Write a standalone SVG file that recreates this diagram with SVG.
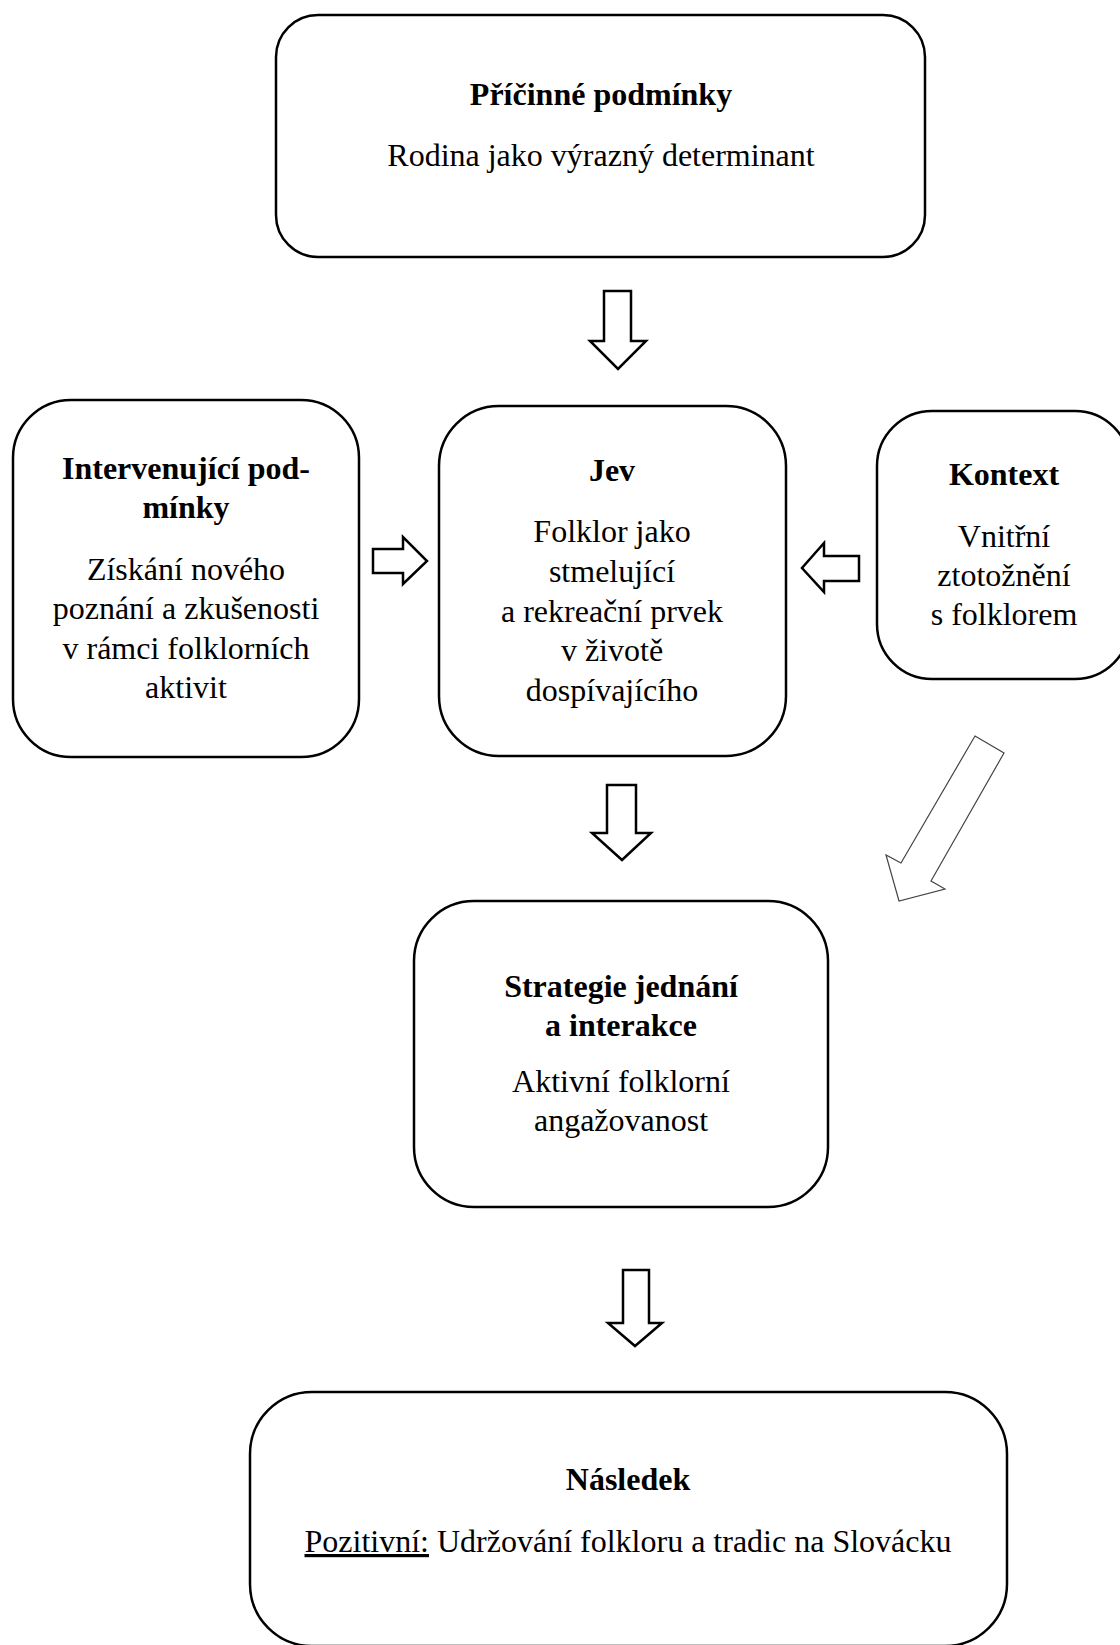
<svg xmlns="http://www.w3.org/2000/svg" width="1120" height="1645" viewBox="0 0 1120 1645">
<style>
.box{fill:#fff;stroke:#000;stroke-width:2.5}
.arr{fill:#fff;stroke:#000;stroke-width:2.5;stroke-linejoin:miter}
.thin{fill:#fff;stroke:#444;stroke-width:1.2;stroke-linejoin:miter}
text{font-family:"Liberation Serif","Times New Roman",serif;font-size:32px;fill:#000;text-anchor:middle}
.b{font-weight:bold}
</style>
<rect width="1120" height="1645" fill="#fff"/>
<g id="connectors">
<polygon class="arr" points="604,291 631,291 631,341 646,341 618,369 590,341 604,341"/>
<polygon class="arr" points="373,549 403,549 403,537 427,561 403,584 403,573 373,573"/>
<polygon class="arr" points="859,556 824,556 824,543 802,568 824,592 824,581 859,581"/>
<polygon class="thin" points="975,736 1004,753 931,881 945,889 899,901 886,855 901,863"/>
<polygon class="arr" points="607,785 636,785 636,833 651,833 622,860 592,833 607,833"/>
<polygon class="arr" points="623,1270 649,1270 649,1323 662,1323 635,1346 608,1323 623,1323"/>
</g>
<g id="pricinne">
<rect class="box" x="276" y="15" width="649" height="242" rx="42"/>
<text class="b" x="601" y="105">Příčinné podmínky</text>
<text x="601" y="166">Rodina jako výrazný determinant</text>
</g>
<g id="intervenujici">
<rect class="box" x="13" y="400" width="346" height="357" rx="58"/>
<text class="b" x="186" y="479">Intervenující pod-</text>
<text class="b" x="186" y="518">mínky</text>
<text x="186" y="580">Získání nového</text>
<text x="186" y="619">poznání a zkušenosti</text>
<text x="186" y="659">v rámci folklorních</text>
<text x="186" y="698">aktivit</text>
</g>
<g id="jev">
<rect class="box" x="439" y="406" width="347" height="350" rx="60"/>
<text class="b" x="612" y="481">Jev</text>
<text x="612" y="542">Folklor jako</text>
<text x="612" y="582">stmelující</text>
<text x="612" y="622">a rekreační prvek</text>
<text x="612" y="661">v životě</text>
<text x="612" y="701">dospívajícího</text>
</g>
<g id="kontext">
<rect class="box" x="877" y="411" width="253" height="268" rx="55"/>
<text class="b" x="1004" y="485">Kontext</text>
<text x="1004" y="547">Vnitřní</text>
<text x="1004" y="586">ztotožnění</text>
<text x="1004" y="625">s folklorem</text>
</g>
<g id="strategie">
<rect class="box" x="414" y="901" width="414" height="306" rx="60"/>
<text class="b" x="621" y="997">Strategie jednání</text>
<text class="b" x="621" y="1036">a interakce</text>
<text x="621" y="1092">Aktivní folklorní</text>
<text x="621" y="1131">angažovanost</text>
</g>
<g id="nasledek">
<rect class="box" x="250" y="1392" width="757" height="254" rx="62"/>
<text class="b" x="628" y="1490">Následek</text>
<text x="628" y="1552"><tspan text-decoration="underline">Pozitivní:</tspan> Udržování folkloru a tradic na Slovácku</text>
</g>
</svg>
